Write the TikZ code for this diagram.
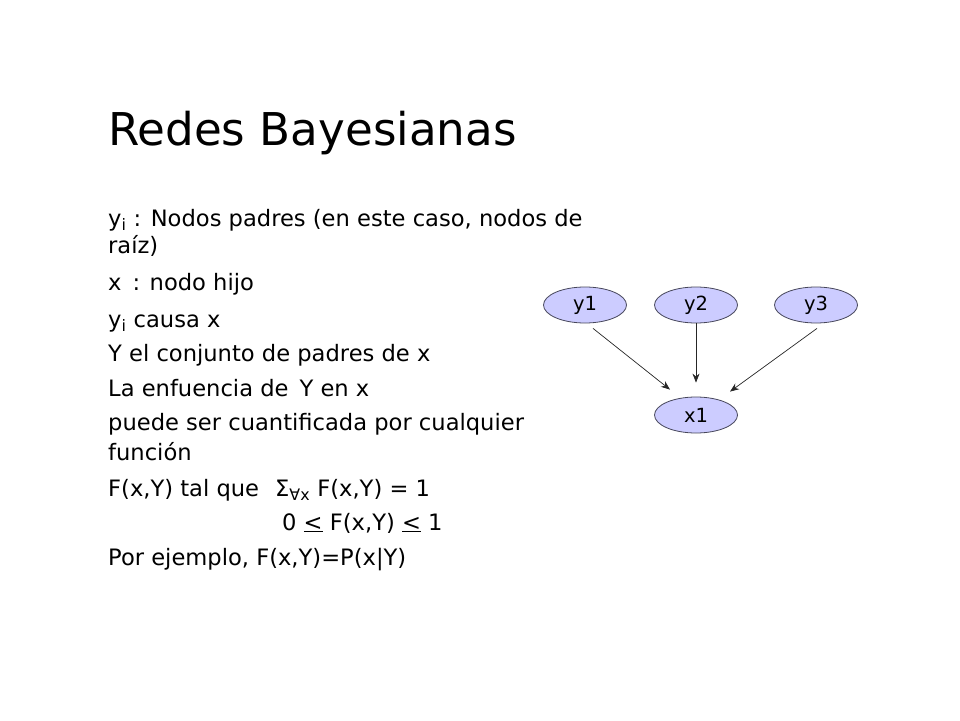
\documentclass[tikz,border=0pt]{standalone}
\usepackage{fontspec}
\setmainfont{DejaVu Sans}
\newfontfamily\nodefont{DejaVu Sans}
\usetikzlibrary{arrows.meta,shapes.geometric}
\definecolor{nodefill}{RGB}{204,204,255}
\definecolor{nodeedge}{RGB}{70,70,90}
\tikzset{
  ln/.style={anchor=base west,inner sep=0pt,font=\fontsize{22.6}{26}\selectfont},
  bnode/.style={ellipse,draw=nodeedge,fill=nodefill,line width=0.8pt,minimum width=83pt,minimum height=36pt,inner sep=0pt,font=\nodefont\fontsize{19.5}{22}\selectfont},
  arr/.style={-{Stealth[length=9pt,width=7pt]},line width=0.7pt,draw=black!85}
}
\begin{document}
\begin{tikzpicture}[x=1pt,y=-1pt]
\useasboundingbox (0,0) rectangle (960,720);
\node[anchor=base west,inner sep=0pt,font=\fontsize{45.2}{52}\selectfont] (title) at (108,145) {Redes Bayesianas};
\node[ln] (l1) at (108,226) {y\textsubscript{i} : Nodos padres (en este caso, nodos de};
\node[ln] (l2) at (108,253) {raíz)};
\node[ln] (l3) at (108,290) {x\, : nodo hijo};
\node[ln] (l4) at (108,327) {y\textsubscript{i} causa x};
\node[ln] (l5) at (108,361) {Y el conjunto de padres de x};
\node[ln] (l6) at (108,396) {La enfuencia de\, Y en x};
\node[ln] (l7) at (108,430) {puede ser cuantificada por cualquier};
\node[ln] (l8) at (108,460) {función};
\node[ln] (l9) at (108,496) {F(x,Y) tal que};
\node[ln] (l9b) at (275,496) {Σ\textsubscript{∀x} F(x,Y) = 1};
\node[ln] (l10) at (282,530) {0 \underline{<} F(x,Y) \underline{<} 1};
\node[ln] (l11) at (108,565) {Por ejemplo, F(x,Y)=P(x|Y)};
\node[bnode] (y1) at (585,305) {y1};
\node[bnode] (y2) at (696,305) {y2};
\node[bnode] (y3) at (816,305) {y3};
\node[bnode] (x1) at (696,415) {x1};
\draw[arr] ([shift={(8,5)}]y1.south) -- ([shift={(-26,-7)}]x1.north);
\draw[arr] (y2.south) -- ([shift={(0,-14)}]x1.north);
\draw[arr] ([shift={(1,5)}]y3.south) -- ([shift={(34,-5)}]x1.north);
\end{tikzpicture}
\end{document}
